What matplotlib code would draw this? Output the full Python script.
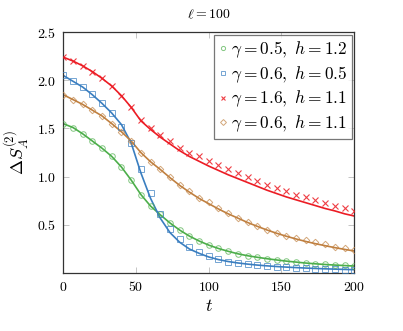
import numpy as np
import matplotlib
matplotlib.use("Agg")
import matplotlib.pyplot as plt

plt.rcParams["mathtext.fontset"] = "cm"
plt.rcParams["font.family"] = "serif"
plt.rcParams["font.serif"] = ["DejaVu Serif"]

# ── Data ────────────────────────────────────────────────────────────────────
t = np.linspace(0, 200, 31)

green_pts = [1.55, 1.51, 1.44, 1.37, 1.30, 1.215, 1.10, 0.965, 0.815, 0.695, 0.61,
             0.52, 0.446, 0.384, 0.335, 0.29, 0.256, 0.228, 0.20, 0.182, 0.166,
             0.151, 0.138, 0.126, 0.116, 0.106, 0.098, 0.091, 0.085, 0.08, 0.076]
green_fit = [1.55, 1.51, 1.445, 1.37, 1.295, 1.21, 1.10, 0.965, 0.815, 0.695, 0.605,
             0.52, 0.446, 0.384, 0.333, 0.29, 0.255, 0.226, 0.20, 0.18, 0.164,
             0.149, 0.136, 0.124, 0.114, 0.104, 0.096, 0.089, 0.083, 0.078, 0.073]

blue_pts = [2.05, 1.99, 1.93, 1.86, 1.76, 1.66, 1.52, 1.345, 1.08, 0.826, 0.615,
            0.46, 0.35, 0.27, 0.215, 0.176, 0.145, 0.117, 0.10, 0.09, 0.082,
            0.074, 0.067, 0.061, 0.056, 0.051, 0.047, 0.043, 0.04, 0.037, 0.034]
blue_fit = [2.05, 1.99, 1.93, 1.85, 1.76, 1.66, 1.54, 1.35, 1.04, 0.775, 0.57,
            0.42, 0.32, 0.25, 0.205, 0.167, 0.14, 0.12, 0.105, 0.093, 0.083,
            0.075, 0.068, 0.062, 0.057, 0.052, 0.048, 0.044, 0.041, 0.038, 0.035]

red_pts = [2.24, 2.20, 2.15, 2.09, 2.02, 1.94, 1.84, 1.72, 1.59, 1.51, 1.43,
           1.37, 1.30, 1.25, 1.21, 1.16, 1.12, 1.08, 1.04, 1.00, 0.96,
           0.915, 0.885, 0.85, 0.815, 0.785, 0.757, 0.73, 0.70, 0.674, 0.645]
red_fit = [2.24, 2.20, 2.15, 2.09, 2.02, 1.94, 1.84, 1.72, 1.58, 1.49, 1.41,
           1.34, 1.27, 1.21, 1.16, 1.11, 1.065, 1.02, 0.98, 0.94, 0.90,
           0.86, 0.825, 0.79, 0.76, 0.73, 0.70, 0.67, 0.645, 0.615, 0.592]

brown_pts = [1.85, 1.80, 1.75, 1.69, 1.63, 1.55, 1.466, 1.37, 1.25, 1.155, 1.08,
             0.995, 0.915, 0.85, 0.78, 0.733, 0.67, 0.62, 0.575, 0.53, 0.485,
             0.446, 0.418, 0.387, 0.36, 0.342, 0.325, 0.298, 0.273, 0.256, 0.239]
brown_fit = [1.85, 1.80, 1.75, 1.69, 1.63, 1.55, 1.466, 1.37, 1.25, 1.155, 1.075,
             0.99, 0.91, 0.84, 0.775, 0.72, 0.665, 0.615, 0.57, 0.525, 0.485,
             0.447, 0.413, 0.382, 0.354, 0.328, 0.305, 0.284, 0.264, 0.246, 0.229]

series = [
    (r"$\gamma = 0.5,\ h = 1.2$", green_pts, green_fit, "#4cae4a", "o", 4.0),
    (r"$\gamma = 0.6,\ h = 0.5$", blue_pts, blue_fit, "#3a7ec0", "s", 4.5),
    (r"$\gamma = 1.6,\ h = 1.1$", red_pts, red_fit, "#ec1c24", "x", 4.0),
    (r"$\gamma = 0.6,\ h = 1.1$", brown_pts, brown_fit, "#c08040", "D", 3.3),
]

xticks = [0, 50, 100, 150, 200]
yticks = [0.5, 1.0, 1.5, 2.0, 2.5]

# ── Figure ──────────────────────────────────────────────────────────────────
fig = plt.figure(figsize=(4.03, 3.31), dpi=100)
ax = fig.add_axes([0.157, 0.175, 0.722, 0.728])

for label, pts, fit, color, marker, ms in series:
    ax.plot(t, fit, color=color, linewidth=1.2, zorder=2)
    if marker == "x":
        ax.plot(t, pts, linestyle="none", marker=marker, ms=ms, mew=0.8,
                color=color, alpha=0.85, label=label, zorder=3)
    else:
        ax.plot(t, pts, linestyle="none", marker=marker, ms=ms, mew=0.7,
                mfc="none", mec=color, alpha=0.7, label=label, zorder=3)

ax.set_xlim(0, 200)
ax.set_ylim(0.0, 2.5)
ax.set_xticks(xticks)
ax.set_xticklabels([f"${v}$" for v in xticks], fontsize=10)
ax.set_yticks(yticks)
ax.set_yticklabels([f"${v:.1f}$" for v in yticks], fontsize=10)
ax.tick_params(direction="in", length=4, width=0.6, color="#bbbbbb",
               top=True, right=True, pad=5)
for s in ax.spines.values():
    s.set_color("#333333")
    s.set_linewidth(0.9)

ax.set_xlabel("$t$", fontsize=13, labelpad=2)
ax.set_ylabel(r"$\Delta S_A^{(2)}$", fontsize=13, labelpad=4)
ax.set_title(r"$\ell = 100$", fontsize=10, pad=10)

leg = ax.legend(loc="upper right", fontsize=12.5, frameon=True, fancybox=False,
                handlelength=0.45, handletextpad=0.25, borderpad=0.25,
                labelspacing=0.25, borderaxespad=0.15)
leg.get_frame().set_edgecolor("#555555")
leg.get_frame().set_linewidth(0.9)
for h in leg.legend_handles:
    h.set_markersize(3.0)

fig.savefig("out.png", dpi=100, facecolor="white")
